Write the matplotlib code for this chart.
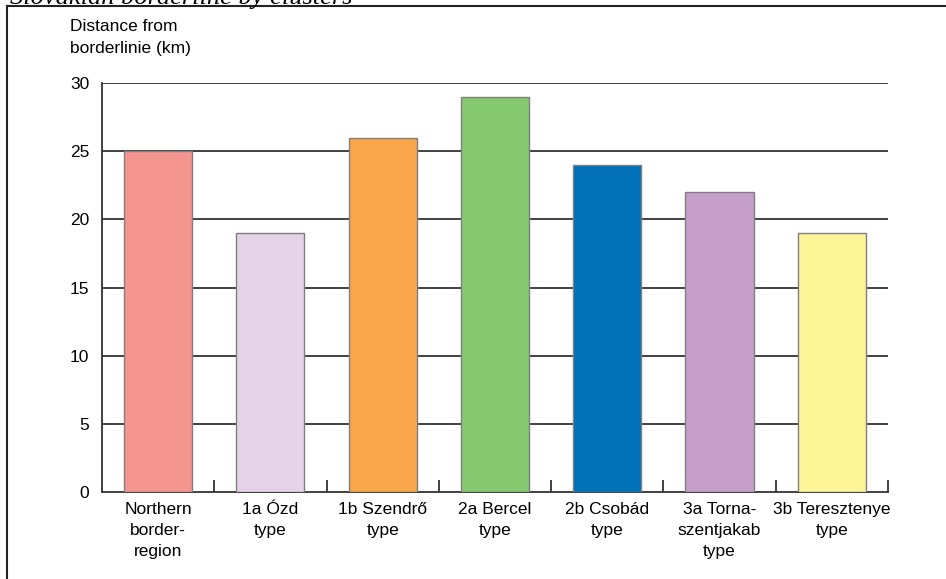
import matplotlib.pyplot as plt
from matplotlib.lines import Line2D
import numpy as np

plt.rcParams["font.family"] = ["Liberation Sans", "DejaVu Sans"]

categories = [
    "Northern\nborder-\nregion",
    "1a Ózd\ntype",
    "1b Szendrő\ntype",
    "2a Bercel\ntype",
    "2b Csobád\ntype",
    "3a Torna-\nszentjakab\ntype",
    "3b Teresztenye\ntype",
]
distances = [25, 19, 26, 29, 24, 22, 19]
colors = ["#F4958F", "#E4D3E7", "#F9A54A", "#84C870", "#0070B8", "#C59FC9", "#FEF599"]
yticks = [0, 5, 10, 15, 20, 25, 30]

fig = plt.figure(figsize=(9.46, 5.79), dpi=100)
ax = fig.add_axes([0.1078, 0.1503, 0.8309, 0.7063])

x = np.arange(len(categories))
ax.bar(x, distances, width=0.607, color=colors, edgecolor="#7f7f7f",
       linewidth=1.0, zorder=3)

ax.set_xlim(-0.5, len(categories) - 0.5)
ax.set_ylim(0, 30)

# horizontal grid lines behind the bars
for v in yticks[1:]:
    ax.axhline(v, color="#333333", linewidth=1.3, zorder=1)

for side in ["top", "right"]:
    ax.spines[side].set_visible(False)
ax.spines["left"].set_color("#333333")
ax.spines["bottom"].set_color("#333333")
ax.spines["left"].set_linewidth(1.3)
ax.spines["bottom"].set_linewidth(1.3)

ax.set_yticks(yticks)
ax.set_yticklabels([str(v) for v in yticks], fontsize=12.5)
ax.tick_params(axis="y", length=0, pad=9)

# category labels centered, ticks at boundaries
ax.set_xticks(x)
ax.set_xticklabels(categories, fontsize=12.5, linespacing=1.5)
ax.tick_params(axis="x", length=0, pad=7)
ax.set_xticks(np.arange(0.5, len(categories)), minor=True)
ax.tick_params(axis="x", which="minor", direction="in", length=9,
               width=1.3, color="#333333")

fig.text(0.074, 0.968, "Distance from\nborderlinie (km)", fontsize=12.5,
         ha="left", va="top", linespacing=1.6)

# partly visible caption at the top edge
fig.text(0.372, 0.993, "Slovakian borderline by clusters", fontsize=19,
         family="Liberation Serif", style="italic", ha="right", va="baseline")

# frame around the figure
fig.add_artist(Line2D([0.0074, 0.0074], [0.0, 0.9896], transform=fig.transFigure,
                      color="#222222", linewidth=1.5))
fig.add_artist(Line2D([0.0074, 1.0], [0.9896, 0.9896], transform=fig.transFigure,
                      color="#222222", linewidth=1.5))

fig.savefig("out.png", dpi=100)
